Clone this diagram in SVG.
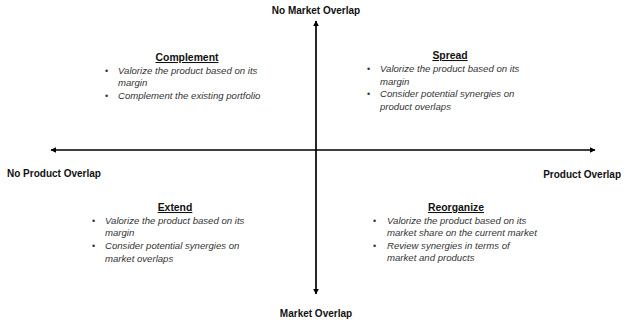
<svg xmlns="http://www.w3.org/2000/svg" width="624" height="327" viewBox="0 0 624 327">
<defs>
<marker id="ah" viewBox="0 0 10 10" refX="9" refY="5" markerWidth="6" markerHeight="6" markerUnits="userSpaceOnUse" orient="auto">
<path d="M0,0 L10,5 L0,10 z" fill="#000"/>
</marker>
<style>
.ax{font-family:"Liberation Sans",Arial,sans-serif;font-weight:bold;font-size:10px;fill:#111}
.ti{font-family:"Liberation Sans",Arial,sans-serif;font-weight:bold;font-size:10.4px;fill:#111;text-decoration:underline}
.it{font-family:"Liberation Sans",Arial,sans-serif;font-style:italic;font-size:9.6px;fill:#333}
.bu{font-family:"Liberation Sans",Arial,sans-serif;font-size:9px;fill:#333}
.ln{stroke:#000;stroke-width:1.7;fill:none}
</style>
</defs>
<rect width="624" height="327" fill="#fff"/>
<g id="connectors">
<line class="ln" x1="316" y1="151" x2="316" y2="21" marker-end="url(#ah)"/>
<line class="ln" x1="316" y1="151" x2="316" y2="294" marker-end="url(#ah)"/>
<line class="ln" x1="316" y1="150" x2="51" y2="150" marker-end="url(#ah)"/>
<line class="ln" x1="316" y1="150" x2="595" y2="150" marker-end="url(#ah)"/>
</g>
<g id="label-top"><text class="ax" x="316" y="14" text-anchor="middle">No Market Overlap</text></g>
<g id="label-bottom"><text class="ax" x="316" y="317" text-anchor="middle">Market Overlap</text></g>
<g id="label-left"><text class="ax" x="7" y="177">No Product Overlap</text></g>
<g id="label-right"><text class="ax" x="621" y="178" text-anchor="end">Product Overlap</text></g>
<g id="complement">
<text class="ti" x="187" y="61" text-anchor="middle">Complement</text>
<text class="bu" x="105" y="74">•</text>
<text class="it" x="118" y="74">Valorize the product based on its</text>
<text class="it" x="118" y="86">margin</text>
<text class="bu" x="105" y="99">•</text>
<text class="it" x="118" y="99">Complement the existing portfolio</text>
</g>
<g id="spread">
<text class="ti" x="450" y="59" text-anchor="middle">Spread</text>
<text class="bu" x="367" y="72">•</text>
<text class="it" x="380" y="72">Valorize the product based on its</text>
<text class="it" x="380" y="85">margin</text>
<text class="bu" x="367" y="97">•</text>
<text class="it" x="380" y="97">Consider potential synergies on</text>
<text class="it" x="380" y="110">product overlaps</text>
</g>
<g id="extend">
<text class="ti" x="175" y="211" text-anchor="middle">Extend</text>
<text class="bu" x="92" y="224">•</text>
<text class="it" x="105" y="224">Valorize the product based on its</text>
<text class="it" x="105" y="236">margin</text>
<text class="bu" x="92" y="249">•</text>
<text class="it" x="105" y="249">Consider potential synergies on</text>
<text class="it" x="105" y="262">market overlaps</text>
</g>
<g id="reorganize">
<text class="ti" x="456" y="211" text-anchor="middle">Reorganize</text>
<text class="bu" x="373" y="224">•</text>
<text class="it" x="387" y="224">Valorize the product based on its</text>
<text class="it" x="387" y="236">market share on the current market</text>
<text class="bu" x="373" y="249">•</text>
<text class="it" x="387" y="249">Review synergies in terms of</text>
<text class="it" x="387" y="261">market and products</text>
</g>
</svg>
